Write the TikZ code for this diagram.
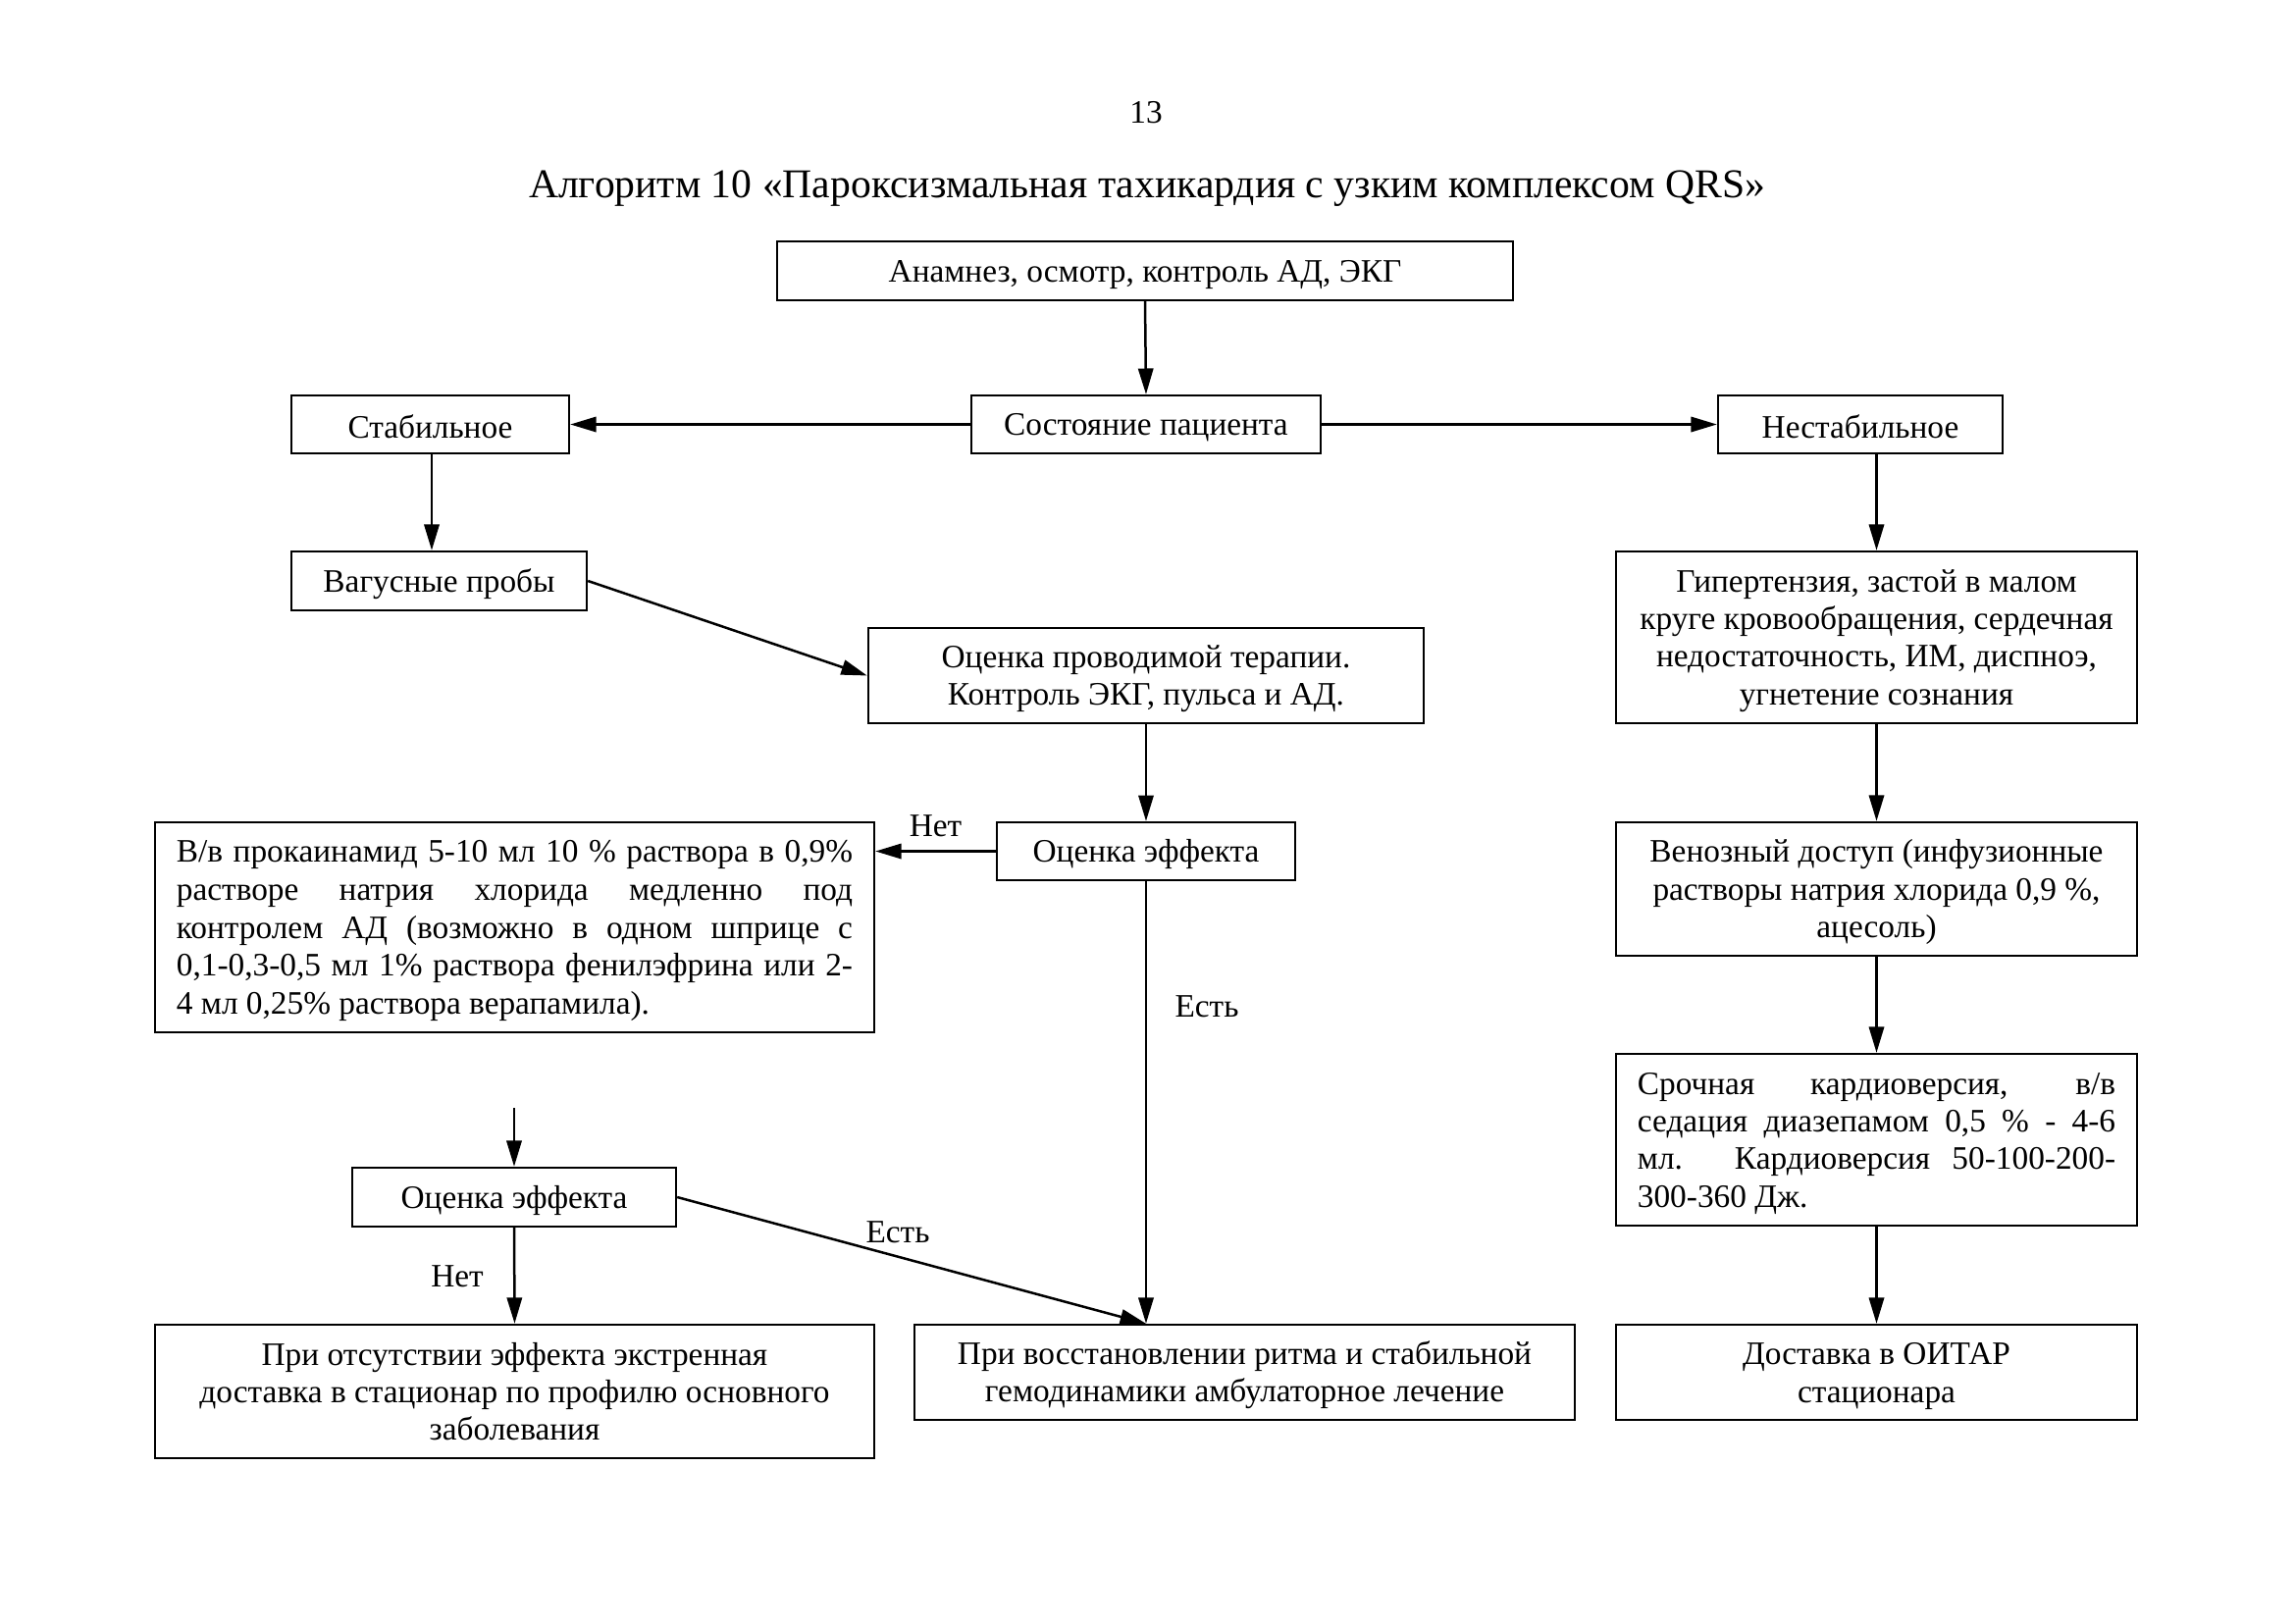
\documentclass[tikz,border=0pt]{standalone}
\usepackage{fontspec}
\setmainfont{Liberation Serif}
\usetikzlibrary{arrows.meta}
% strut that lowers box text slightly within its frame
\newcommand\topgap{\rule{0pt}{10.5pt}}
\begin{document}
\begin{tikzpicture}[x=0.36pt,y=-0.36pt,
  box/.style={draw,line width=0.85pt,rectangle,inner sep=0pt,align=center,
    font=\fontsize{12}{14}\selectfont},
  jbox/.style={draw,line width=0.85pt,rectangle,inner xsep=7.9pt,inner ysep=0pt,
    align=justify,font=\fontsize{12}{14}\selectfont},
  arr/.style={line width=0.9pt,-{Triangle[length=9.5pt,width=5.5pt]}},
  lbl/.style={font=\fontsize{12}{14}\selectfont,inner sep=0pt}]
\useasboundingbox (0,0) rectangle (2339,1654);

% page number and heading
\node[lbl] (pg) at (1168,115) {13};
\node[inner sep=0pt,font=\fontsize{15}{17}\selectfont] (title) at (1169,192)
  {Алгоритм 10 «Пароксизмальная тахикардия с узким комплексом QRS»};

% boxes
\node[box,minimum width=270pt,minimum height=21.6pt] (anam) at (1167,276)
  {\topgap Анамнез, осмотр, контроль АД, ЭКГ};
\node[box,minimum width=128.2pt,minimum height=21.2pt] (state) at (1168,432.5)
  {\topgap Состояние пациента};
\node[box,minimum width=101.9pt,minimum height=21.2pt] (stab) at (438.5,432.5)
  {\topgap Стабильное};
\node[box,minimum width=104.4pt,minimum height=21.2pt] (nestab) at (1896,432.5)
  {\topgap Нестабильное};
\node[box,minimum width=108.4pt,minimum height=21.6pt] (vagus) at (447.5,592)
  {\topgap Вагусные пробы};
\node[box,minimum width=203.8pt,minimum height=34.9pt] (ther) at (1168,688.5)
  {\topgap Оценка проводимой терапии.\\Контроль ЭКГ, пульса и АД.};
\node[box,minimum width=191.2pt,minimum height=63pt,
  font=\fontsize{12}{13.8}\selectfont] (hyp) at (1912.5,649.5)
  {\topgap Гипертензия, застой в малом\\круге кровообращения, сердечная\\недостаточность, ИМ, диспноэ,\\угнетение сознания};
\node[box,minimum width=109.4pt,minimum height=21.2pt] (eff1) at (1168,867.5)
  {\topgap Оценка эффекта};
\node[jbox,text width=248.1pt,minimum height=77pt] (vv) at (524.5,945)
  {\topgap В/в прокаинамид 5-10 мл 10 \% раствора в 0,9\%\linebreak
   растворе натрия хлорида медленно под\linebreak
   контролем АД (возможно в одном шприце с\linebreak
   0,1-0,3-0,5 мл 1\% раствора фенилэфрина или 2-\linebreak
   4 мл 0,25\% раствора верапамила).};
\node[box,minimum width=191.2pt,minimum height=49pt] (ven) at (1912.5,906)
  {\topgap Венозный доступ (инфузионные\\растворы натрия хлорида 0,9 \%,\\ацесоль)};
\node[jbox,text width=175.4pt,minimum height=63pt,
  font=\fontsize{12}{13.8}\selectfont] (cardio) at (1912.5,1161.5)
  {\topgap Срочная кардиоверсия, в/в\linebreak
   седация диазепамом 0,5 \% - 4-6\linebreak
   мл. Кардиоверсия 50-100-200-\linebreak
   300-360 Дж.};
\node[box,minimum width=118.8pt,minimum height=21.6pt] (eff2) at (524,1220)
  {\topgap Оценка эффекта};
\node[box,minimum width=263.9pt,minimum height=49pt,
  font=\fontsize{12}{13.6}\selectfont] (nores) at (524.5,1418)
  {При отсутствии эффекта экстренная\\доставка в стационар по профилю основного\\заболевания};
\node[box,minimum width=242.3pt,minimum height=34.9pt] (restore) at (1268.5,1398.5)
  {\topgap При восстановлении ритма и стабильной\\гемодинамики амбулаторное лечение};
\node[box,minimum width=191.2pt,minimum height=34.9pt] (icu) at (1912.5,1398.5)
  {\topgap Доставка в ОИТАР\\стационара};

% connectors
\draw[arr] (anam.south) -- (state.north);
\draw[arr] (state.west) -- (stab.east);
\draw[arr] (state.east) -- (nestab.west);
\draw[arr] (stab.south -| 440,0) -- (vagus.north -| 440,0);
\draw[arr] (vagus.east) -- (ther.west);
\draw[arr] (ther.south) -- (eff1.north);
\draw[arr] (eff1.west) -- (eff1.west -| vv.east)
  node[lbl,pos=0.5,above=5pt] (no1) {Нет};
\coordinate (join) at (eff1.south |- restore.north);
\draw[arr] (eff1.south) -- (join);
\node[lbl] (yes1) at (1230,1026) {Есть};
\coordinate (freein) at (524,1129);
\draw[arr] (freein) -- (eff2.north);
\draw[arr] (eff2.south) -- (nores.north);
\node[lbl] (no2) at (466,1301) {Нет};
\draw[arr] (eff2.east) -- (join);
\node[lbl] (yes2) at (915,1256) {Есть};
\draw[arr] (nestab.south -| hyp.north) -- (hyp.north);
\draw[arr] (hyp.south) -- (ven.north);
\draw[arr] (ven.south) -- (cardio.north);
\draw[arr] (cardio.south) -- (icu.north);
\end{tikzpicture}
\end{document}
